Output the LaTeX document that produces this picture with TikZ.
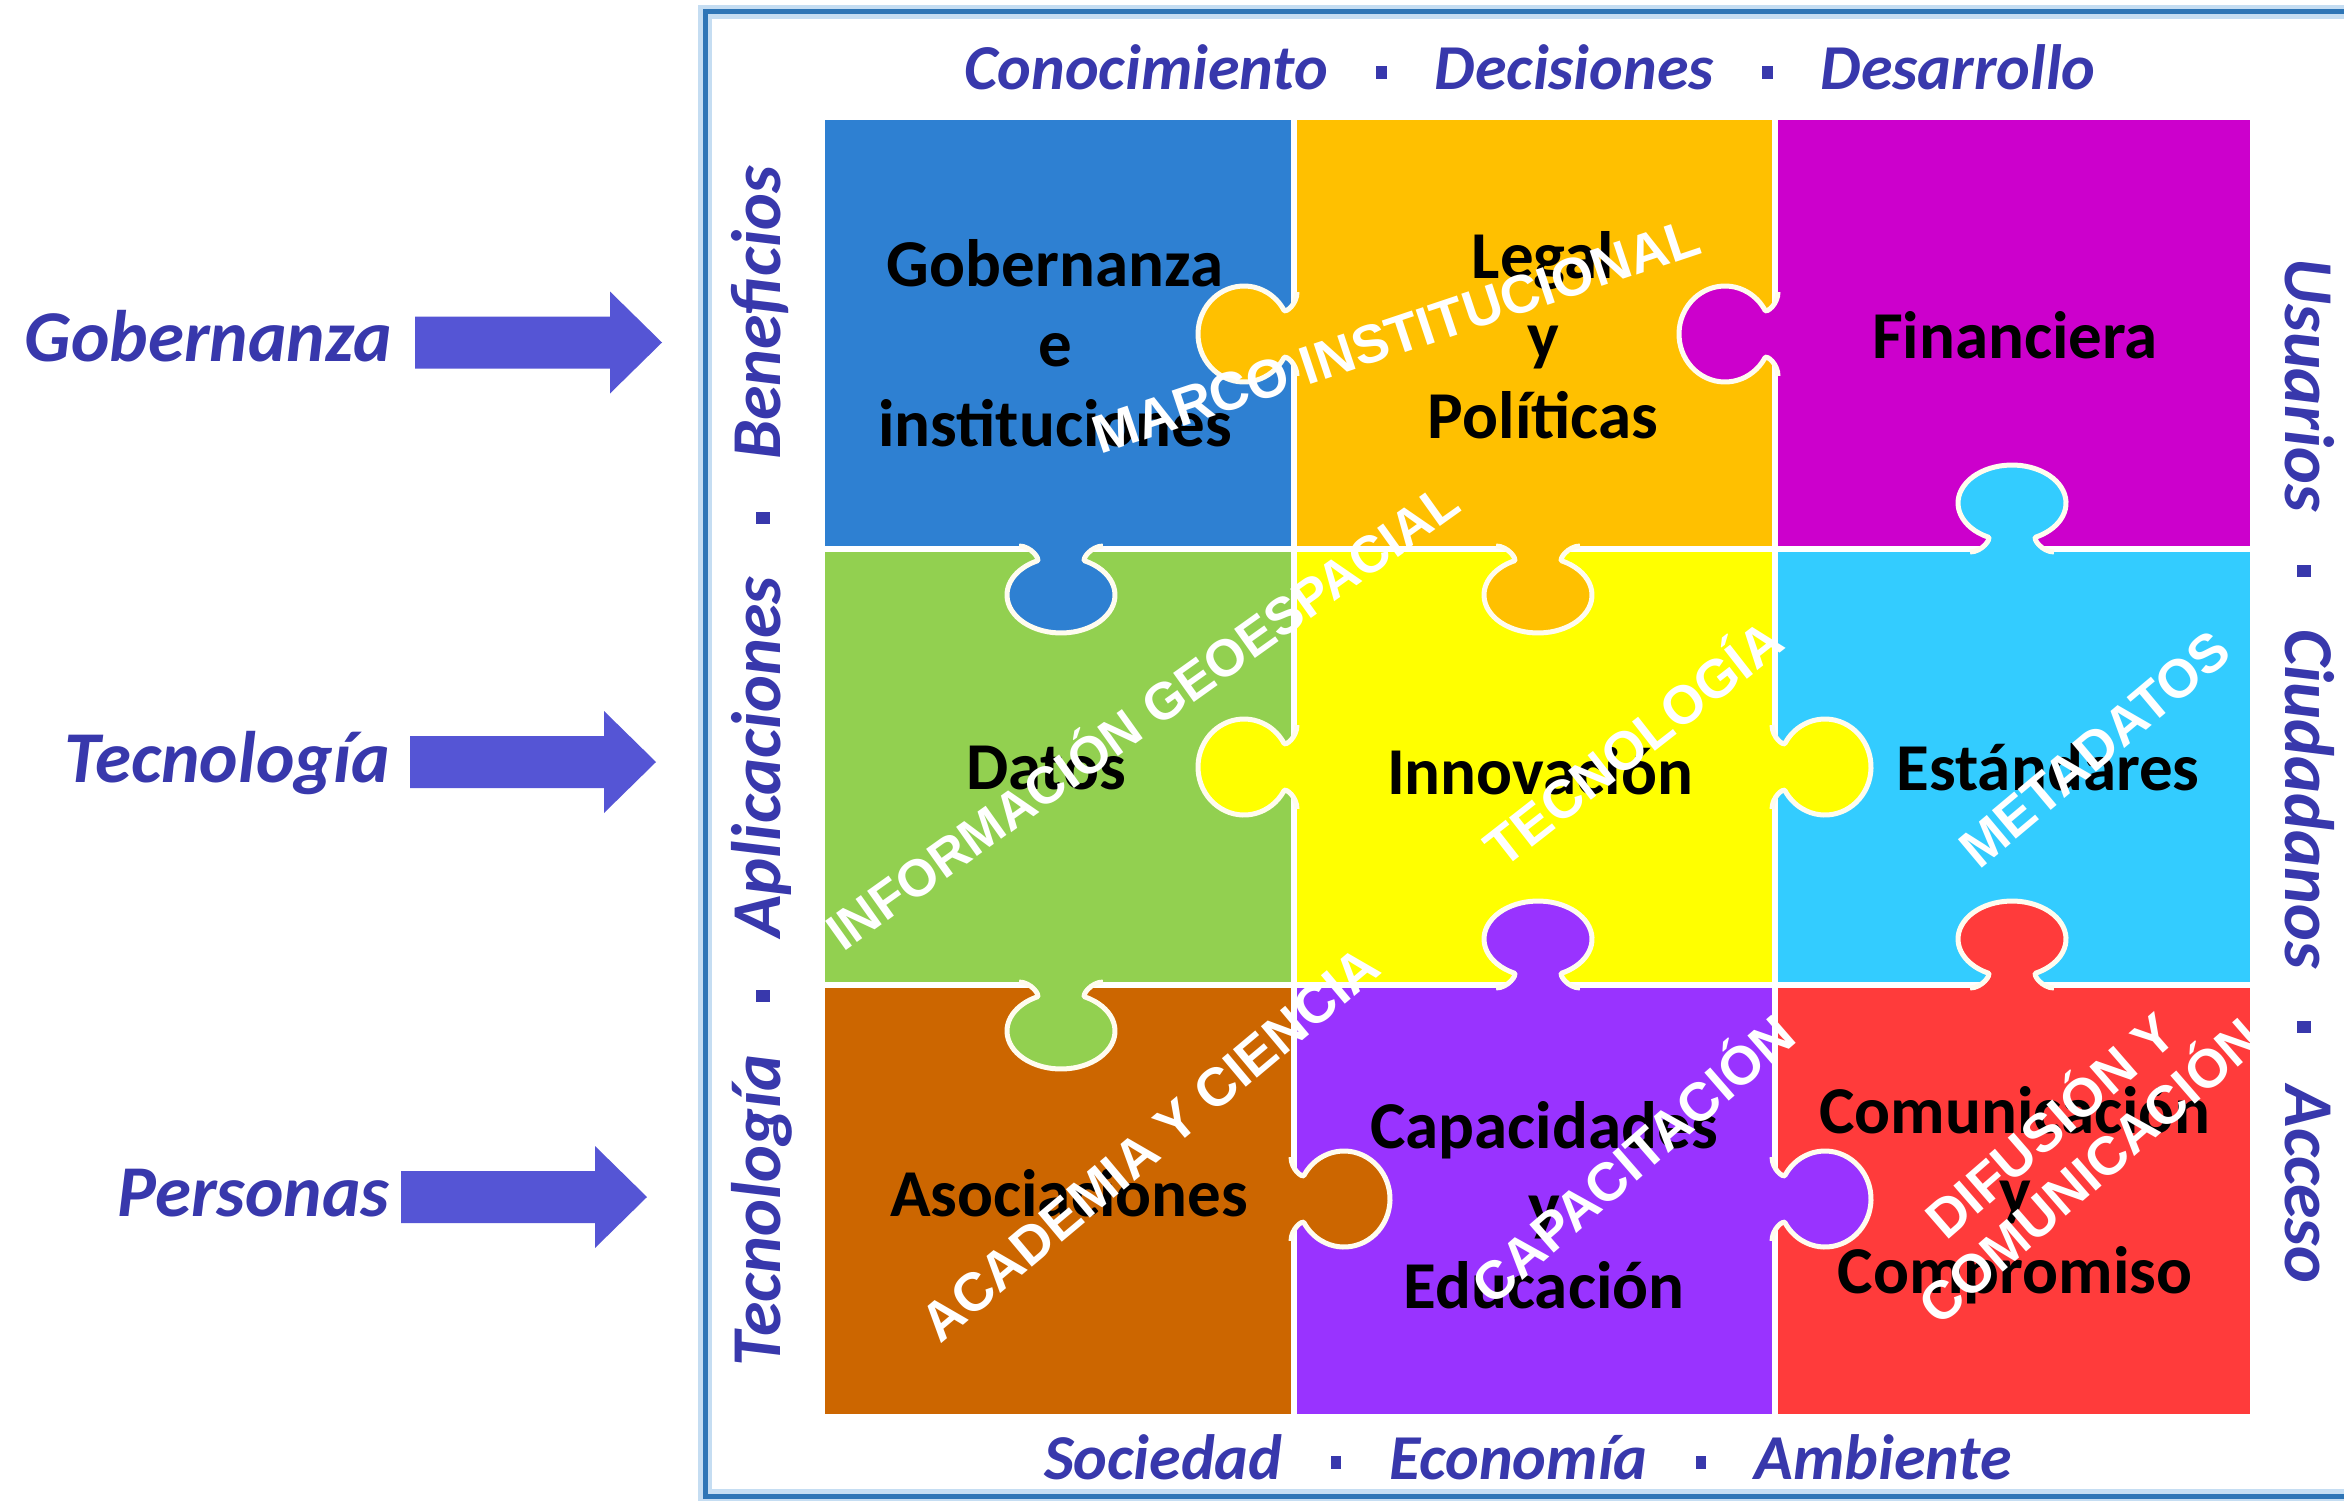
\documentclass[tikz,border=0pt]{standalone}
\usepackage{fontspec}
\setmainfont{Carlito}
\newfontfamily\ovfont{Liberation Sans}
\definecolor{cBlue}{HTML}{2E80D2}
\definecolor{cOrange}{HTML}{FFC000}
\definecolor{cMag}{HTML}{CC00CC}
\definecolor{cGreen}{HTML}{92D050}
\definecolor{cYellow}{HTML}{FFFF00}
\definecolor{cCyan}{HTML}{33CCFF}
\definecolor{cBrown}{HTML}{CC6600}
\definecolor{cPurple}{HTML}{9933FF}
\definecolor{cRed}{HTML}{FF3B3B}
\definecolor{txtblue}{HTML}{3838AC}
\definecolor{arrowblue}{HTML}{5555D5}
\definecolor{framecol}{HTML}{2E75B6}
\definecolor{framehalo}{HTML}{C5DDF2}
\definecolor{knobline}{HTML}{FFFCEF}
\newcommand\sqsep{\hspace{0.75em}\raisebox{0.16em}{\rule{0.17em}{0.2em}}\hspace{0.75em}}
% knob protruding from a vertical edge (left/right)
\newcommand\knobV[4]{\begin{scope}[shift={(#1,-#2)},rotate=#3]
 \fill[#4] (-42,-7) -- (-42,-3) .. controls (-30,-3) and (-20.5,8.2) .. (-24,10.16)
   arc[start angle=240,end angle=-60,x radius=48,y radius=46]
   .. controls (20.5,8.2) and (30,-3) .. (42,-3) -- (42,-7) -- cycle;
 \draw[knobline,line width=5pt] (-42,-3) .. controls (-30,-3) and (-20.5,8.2) .. (-24,10.16)
   arc[start angle=240,end angle=-60,x radius=48,y radius=46]
   .. controls (20.5,8.2) and (30,-3) .. (42,-3);
\end{scope}}
% knob protruding from a horizontal edge (up/down)
\newcommand\knobH[4]{\begin{scope}[shift={(#1,-#2)},rotate=#3]
 \fill[#4] (-42,-7) -- (-42,-3) .. controls (-30,-3) and (-20.2,10.6) .. (-24,11.95)
   arc[start angle=243.6,end angle=-63.6,x radius=54,y radius=38]
   .. controls (20.2,10.6) and (30,-3) .. (42,-3) -- (42,-7) -- cycle;
 \draw[knobline,line width=5pt] (-42,-3) .. controls (-30,-3) and (-20.2,10.6) .. (-24,11.95)
   arc[start angle=243.6,end angle=-63.6,x radius=54,y radius=38]
   .. controls (20.2,10.6) and (30,-3) .. (42,-3);
\end{scope}}
\tikzset{
 sidetext/.style={text=txtblue, font=\fontsize{64}{70}\selectfont\bfseries\itshape, inner sep=0pt},
 vsidetext/.style={text=txtblue, font=\fontsize{70}{76}\selectfont\bfseries\itshape, inner sep=0pt},
 lefttext/.style={text=txtblue, font=\fontsize{73}{80}\selectfont\bfseries\itshape, inner sep=0pt, anchor=base east},
 tiletext/.style={text=black, font=\fontsize{67}{80}\selectfont\bfseries, align=center, inner sep=0pt},
 overtext/.style={text=white, font=\ovfont\fontsize{54}{60}\selectfont\bfseries, align=center, inner sep=0pt},
 blockarrow/.style={fill=arrowblue},
}
\begin{document}
\begin{tikzpicture}[x=1pt,y=1pt]
\useasboundingbox (0,0) rectangle (2344,-1501);
\clip (0,0) rectangle (2344,-1501);
\fill[white] (0,0) rectangle (2344,-1501);
% frame
\draw[framehalo, line width=14pt] (2400,-12) -- (705,-12) -- (705,-1496) -- (2400,-1496);
\draw[framecol, line width=5pt] (2400,-12) -- (705,-12) -- (705,-1496) -- (2400,-1496);
% tiles
\fill[cBlue]   (825,-120) rectangle (1291,-546);
\fill[cOrange] (1297,-120) rectangle (1772,-546);
\fill[cMag]    (1778,-120) rectangle (2250,-546);
\fill[cGreen]  (825,-552) rectangle (1291,-982);
\fill[cYellow] (1297,-552) rectangle (1772,-982);
\fill[cCyan]   (1778,-552) rectangle (2250,-982);
\fill[cBrown]  (825,-988) rectangle (1291,-1414);
\fill[cPurple] (1297,-988) rectangle (1772,-1414);
\fill[cRed]    (1778,-988) rectangle (2250,-1414);
% knobs
\knobV{1294}{334}{90}{cOrange}
\knobV{1775}{334}{90}{cMag}
\knobV{1294}{767}{90}{cYellow}
\knobV{1775}{767}{-90}{cYellow}
\knobV{1294}{1199}{-90}{cBrown}
\knobV{1775}{1199}{-90}{cPurple}
\knobH{1061}{549}{180}{cBlue}
\knobH{1538}{549}{180}{cOrange}
\knobH{2012}{549}{0}{cCyan}
\knobH{1061}{985}{180}{cGreen}
\knobH{1538}{985}{0}{cPurple}
\knobH{2012}{985}{0}{cRed}
% tile labels
\node[tiletext] (gobT) at (1055,-343) {Gobernanza\\e\\instituciones};
\node[tiletext] (legT) at (1543,-335) {Legal\\y\\Políticas};
\node[tiletext] (finT) at (2015,-335) {Financiera};
\node[tiletext] (datT) at (1046,-768) {Datos};
\node[tiletext] (innT) at (1540,-771) {Innovación};
\node[tiletext] (estT) at (2048,-767) {Estándares};
\node[tiletext] (asoT) at (1069,-1193) {Asociaciones};
\node[tiletext] (capT) at (1544,-1205) {Capacidades\\y\\Educación};
\node[tiletext] (comT) at (2015,-1195) {Comunicación\\y\\Compromiso};
% overlay labels
\node[overtext, rotate=18.5] (ov1) at (1396,-336) {MARCO INSTITUCIONAL};
\node[overtext, rotate=35.5, font=\ovfont\fontsize{52}{60}\selectfont\bfseries] (ov2) at (1140,-713) {INFORMACIÓN GEOESPACIAL};
\node[overtext, rotate=38] (ov3) at (1631,-740) {TECNOLOGÍA};
\node[overtext, rotate=40] (ov4) at (2095,-749) {METADATOS};
\node[overtext, rotate=40] (ov5) at (1150,-1144) {ACADEMIA Y CIENCIA};
\node[overtext, rotate=41] (ov6) at (1630,-1156) {CAPACITACIÓN};
\node[overtext, rotate=41] (ov7) at (2067,-1145) {DIFUSIÓN Y\\COMUNICACIÓN};
% frame texts
\node[sidetext] (topT) at (1530,-67) {Conocimiento\sqsep Decisiones\sqsep Desarrollo};
\node[sidetext] (botT) at (1528,-1457) {Sociedad\sqsep Economía\sqsep Ambiente};
\node[vsidetext, rotate=90] (leftT) at (762,-766) {Tecnología\sqsep Aplicaciones\sqsep Beneficios};
\node[vsidetext, rotate=-90] (rightT) at (2310,-771) {Usuarios\sqsep Ciudadanos\sqsep Acceso};
% left labels and arrows
\node[lefttext] (gobL) at (392,-361) {Gobernanza};
\node[lefttext] (tecL) at (390,-782) {Tecnología};
\node[lefttext] (perL) at (390,-1216) {Personas};
\fill[blockarrow] (415,-316.5) -- (610,-316.5) -- (610,-291.5) -- (662,-342.5) -- (610,-393.5) -- (610,-368.5) -- (415,-368.5) -- cycle;
\fill[blockarrow] (410,-736) -- (604,-736) -- (604,-711) -- (656,-762) -- (604,-813) -- (604,-788) -- (410,-788) -- cycle;
\fill[blockarrow] (401,-1171) -- (595,-1171) -- (595,-1146) -- (647,-1197) -- (595,-1248) -- (595,-1223) -- (401,-1223) -- cycle;
\end{tikzpicture}
\end{document}
